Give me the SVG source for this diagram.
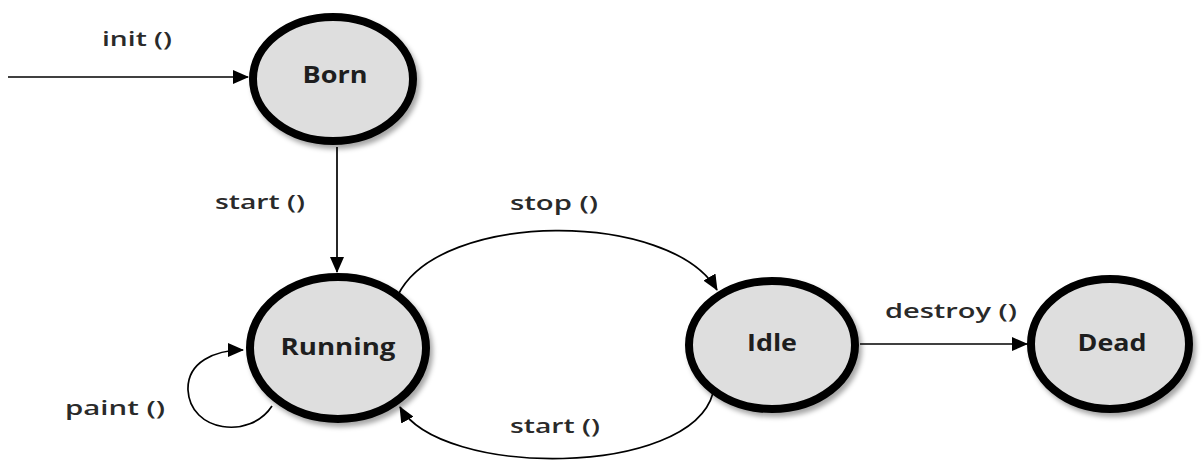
<svg xmlns="http://www.w3.org/2000/svg" width="1204" height="466" viewBox="0 0 1204 466">
<defs>
<style>
.node{fill:#dedede;stroke:#000;stroke-width:8;filter:url(#sh)}
.nl{font-family:"Open Sans","Liberation Sans",sans-serif;font-weight:bold;font-size:23px;fill:#1e1e1e;text-anchor:middle}
.el{font-family:"Open Sans","Liberation Sans",sans-serif;font-weight:600;font-size:20px;fill:#2a2a2a;text-anchor:middle}
.edge{fill:none;stroke:#000;stroke-width:1.7;marker-end:url(#ah)}
</style>
<filter id="sh" x="-20%" y="-20%" width="140%" height="140%">
<feDropShadow dx="3" dy="4" stdDeviation="2.5" flood-color="#000" flood-opacity="0.35"/>
</filter>
<marker id="ah" markerUnits="userSpaceOnUse" markerWidth="16" markerHeight="14" refX="15" refY="7" orient="auto">
<path d="M0,0 L16,7 L0,14 Z" fill="#000"/>
</marker>
</defs>
<rect width="1204" height="466" fill="#fff"/>
<g id="connectors">
<path class="edge" d="M8,77 L248,77"/>
<path class="edge" d="M337,147 L337,272"/>
<path class="edge" d="M398,295 C440,210 670,210 717,290"/>
<path class="edge" d="M713,393 C690,478 440,478 400,407"/>
<path class="edge" d="M272,406 C250,440 190,432 188,390 C187,362 215,350 243,350"/>
<path class="edge" d="M860,344 L1027,344"/>
</g>
<g id="labels">
<text class="el" x="137" y="46" textLength="70" lengthAdjust="spacingAndGlyphs">init ()</text>
<text class="el" x="260" y="209" textLength="90" lengthAdjust="spacingAndGlyphs">start ()</text>
<text class="el" x="554" y="210" textLength="88" lengthAdjust="spacingAndGlyphs">stop ()</text>
<text class="el" x="555" y="433" textLength="90" lengthAdjust="spacingAndGlyphs">start ()</text>
<text class="el" x="115" y="415" textLength="100" lengthAdjust="spacingAndGlyphs">paint ()</text>
<text class="el" x="951" y="318" textLength="132" lengthAdjust="spacingAndGlyphs">destroy ()</text>
</g>
<g id="born"><ellipse class="node" cx="333" cy="79" rx="80" ry="62"/><text class="nl" x="335" y="83" textLength="65" lengthAdjust="spacingAndGlyphs">Born</text></g>
<g id="running"><ellipse class="node" cx="338" cy="348" rx="88" ry="71"/><text class="nl" x="338" y="355" textLength="115" lengthAdjust="spacingAndGlyphs">Running</text></g>
<g id="idle"><ellipse class="node" cx="772" cy="345" rx="83" ry="64"/><text class="nl" x="772" y="351" textLength="50" lengthAdjust="spacingAndGlyphs">Idle</text></g>
<g id="dead"><ellipse class="node" cx="1110" cy="344" rx="79" ry="65"/><text class="nl" x="1112" y="351" textLength="69" lengthAdjust="spacingAndGlyphs">Dead</text></g>
</svg>
